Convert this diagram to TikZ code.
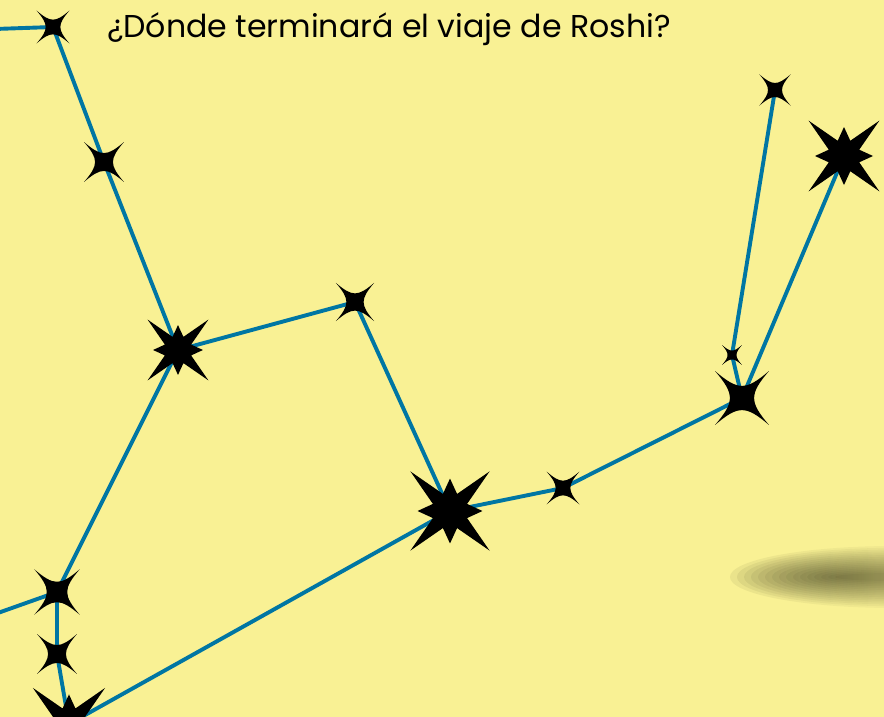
\documentclass[tikz,border=0pt]{standalone}
\usepackage{fontspec}
\setmainfont{Poppins}
\usetikzlibrary{fadings}
\definecolor{bg}{RGB}{249,241,148}
\definecolor{routeblue}{RGB}{0,118,163}
\definecolor{smudgecol}{RGB}{50,50,25}
\tikzset{
  route/.style={draw=routeblue, line width=3.9pt},
  fourstar/.pic={\fill[black] (45:1) .. controls (0.1,0.19) and (-0.1,0.19) .. (135:1)
      .. controls (-0.19,0.1) and (-0.19,-0.1) .. (225:1)
      .. controls (-0.1,-0.19) and (0.1,-0.19) .. (315:1)
      .. controls (0.19,-0.1) and (0.19,0.1) .. cycle;},
  eightstar/.pic={\fill[black] (45:1) -- (67.5:0.33) -- (90:0.58) -- (112.5:0.33) -- (135:1)
      -- (157.5:0.33) -- (180:0.58) -- (202.5:0.33) -- (225:1) -- (247.5:0.33) -- (270:0.58)
      -- (292.5:0.33) -- (315:1) -- (337.5:0.33) -- (0:0.58) -- (22.5:0.33) -- cycle;},
  titletext/.style={anchor=base west, inner sep=0pt, font=\fontsize{31.6}{34}\selectfont}
}
\begin{document}
\begin{tikzpicture}[x=1pt,y=-1pt]
\useasboundingbox (0,0) rectangle (884,717);
\clip (0,0) rectangle (884,717);
\fill[bg] (0,0) rectangle (884,717);
% smudge
\foreach \i in {0,...,15}
  \fill[smudgecol, opacity=0.07, path fading=east] (895,577) ellipse [x radius={165-7*\i}, y radius={31-1.8*\i}];
% star positions
\coordinate (e1) at (-5,29);
\coordinate (e2) at (-5,614);
\coordinate (s1) at (53,27);
\coordinate (s2) at (104,162);
\coordinate (s3) at (178,350);
\coordinate (s4) at (355,302);
\coordinate (s5) at (450,511);
\coordinate (s6) at (563,488);
\coordinate (s7) at (742,398);
\coordinate (s8) at (732,355);
\coordinate (s9) at (775,90);
\coordinate (s10) at (844,156);
\coordinate (s11) at (57,592);
\coordinate (s12) at (57,654);
\coordinate (s13) at (69,724);
% connectors
\draw[route] (e1) -- (s1) -- (s2) -- (s3) -- (s4) -- (s5) -- (s6) -- (s7) -- (s8) -- (s9);
\draw[route] (s7) -- (s10);
\draw[route] (s3) -- (s11) -- (s12) -- (s13) -- (s5);
\draw[route] (e2) -- (s11);
% stars
\pic[scale=23] at (s1) {fourstar};
\pic[scale=28] at (s2) {fourstar};
\pic[scale=43] at (s3) {eightstar};
\pic[scale=27] at (s4) {fourstar};
\pic[scale=56] at (s5) {eightstar};
\pic[scale=23] at (s6) {fourstar};
\pic[scale=38] at (s7) {fourstar};
\pic[scale=14] at (s8) {fourstar};
\pic[scale=22] at (s9) {fourstar};
\pic[scale=50] at (s10) {eightstar};
\pic[scale=32] at (s11) {fourstar};
\pic[scale=28] at (s12) {fourstar};
\pic[scale=51] at (s13) {eightstar};
% title
\node[titletext] (title) at (107,38) {¿Dónde terminará el viaje de Roshi?};
\end{tikzpicture}
\end{document}
